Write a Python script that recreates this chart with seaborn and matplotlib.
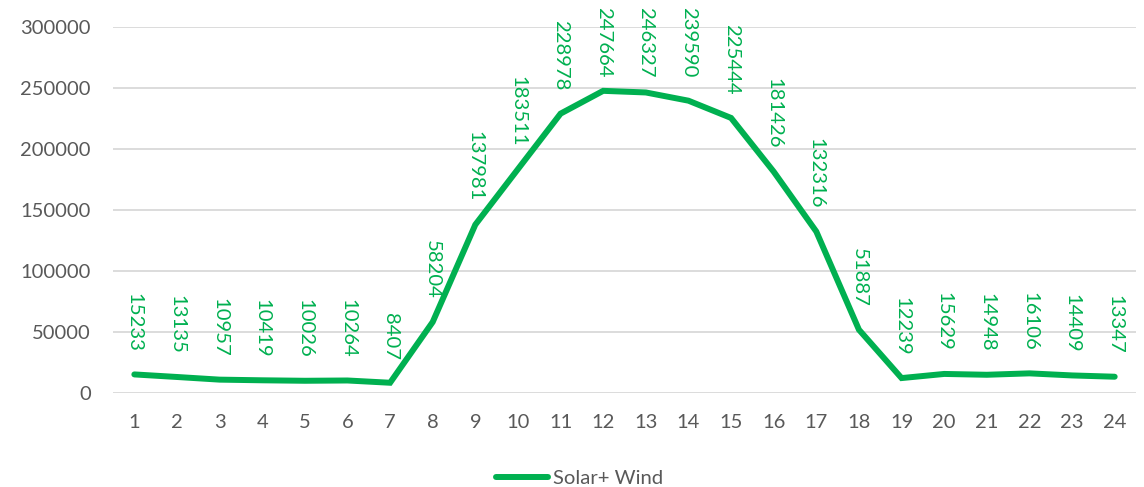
import matplotlib
matplotlib.use("Agg")
import matplotlib.pyplot as plt
import seaborn as sns
import pandas as pd

hours = list(range(1, 25))
solar_wind = [15233, 13135, 10957, 10419, 10026, 10264, 8407, 58204,
              137981, 183511, 228978, 247664, 246327, 239590, 225444,
              181426, 132316, 51887, 12239, 15629, 14948, 16106, 14409, 13347]
series_name = "Solar+ Wind"
y_ticks = [0, 50000, 100000, 150000, 200000, 250000, 300000]

GREEN = "#00B050"
GREY_TXT = "#595959"
GRID = "#D9D9D9"

sns.set_theme(style="white")
plt.rcParams["font.family"] = ["Lato", "DejaVu Sans"]

df = pd.DataFrame({"hour": hours, "value": solar_wind, "series": series_name})

fig = plt.figure(figsize=(11.44, 4.87), dpi=100)
ax = fig.add_axes([0.0988, 0.193, 0.8942, 0.7516])

sns.lineplot(data=df, x="hour", y="value", hue="series", palette=[GREEN],
             linewidth=4.3, ax=ax, legend=True)
for line in ax.get_lines():
    line.set_solid_capstyle("round")
    line.set_solid_joinstyle("miter")

ax.set_xlim(0.5, 24.5)
ax.set_ylim(0, 300000)
ax.set_xticks(hours)
ax.set_xticklabels([str(h) for h in hours])
ax.set_yticks(y_ticks)
ax.set_yticklabels([str(v) for v in y_ticks])
ax.tick_params(axis="both", length=0, labelsize=14.5, colors=GREY_TXT)
ax.tick_params(axis="y", pad=16)
ax.tick_params(axis="x", pad=15)
ax.set_xlabel("")
ax.set_ylabel("")
ax.yaxis.grid(True, color=GRID, linewidth=1.3)
ax.xaxis.grid(False)
ax.set_axisbelow(True)
for s in ax.spines.values():
    s.set_visible(False)

# value labels, rotated and placed above each point
labels = []
for h, v in zip(hours, solar_wind):
    t = ax.annotate(str(v), xy=(h, v), xytext=(0, 16.5), textcoords="offset points",
                    rotation=270, ha="center", va="bottom", fontsize=14.6,
                    color=GREEN, annotation_clip=False)
    labels.append(t)

# keep labels inside the figure near the top edge
fig.canvas.draw()
renderer = fig.canvas.get_renderer()
H = fig.bbox.height
for t in labels:
    bb = t.get_window_extent(renderer)
    limit = H - 7
    if bb.y1 > limit:
        dy_px = bb.y1 - limit
        ox, oy = t.xyann
        t.xyann = (ox, oy - dy_px * 72 / fig.dpi)

leg = ax.legend(loc="upper center", bbox_to_anchor=(0.456, -0.16), frameon=False,
                fontsize=14.6, handlelength=2.6, handletextpad=0.25)
for txt in leg.get_texts():
    txt.set_color(GREY_TXT)

fig.savefig("out.png", dpi=100)
